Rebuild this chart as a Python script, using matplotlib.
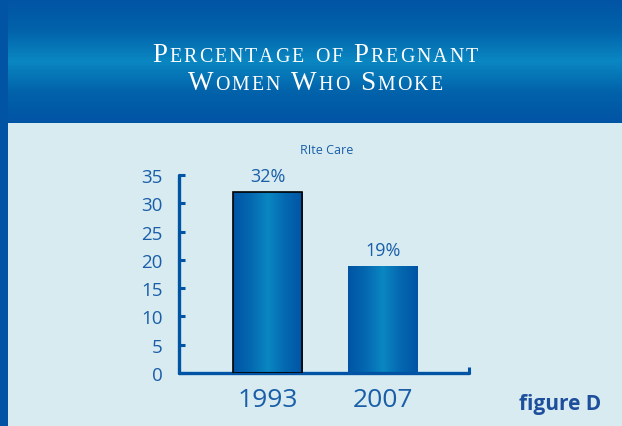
import numpy as np
import matplotlib
matplotlib.use("Agg")
import matplotlib.pyplot as plt
from matplotlib.colors import LinearSegmentedColormap

# data
years = ["1993", "2007"]
values = [32, 19]
value_labels = ["32%", "19%"]
yticks = [0, 5, 10, 15, 20, 25, 30, 35]
title_lines = [["Percentage", "of", "Pregnant"], ["Women", "Who", "Smoke"]]

dark = "#0154a4"
mid = "#0a87c2"
panel = "#d7ebf1"
text_blue = "#1a5ea8"

W, H = 622, 427
fig = plt.figure(figsize=(W / 100, H / 100), dpi=100)
fig.patch.set_facecolor(panel)

# header band with vertical gradient
head = fig.add_axes([0, 1 - 124 / H, 1, 124 / H])
head.axis("off")
grad_cmap = LinearSegmentedColormap.from_list("hd", [dark, "#0262aa", mid, "#0262aa", dark])
g = np.linspace(0, 1, 256).reshape(-1, 1)
head.imshow(g, aspect="auto", cmap=grad_cmap, extent=[0, 1, 0, 1])
head.set_xlim(0, 1)
head.set_ylim(0, 1)

# left edge strip
strip = fig.add_axes([0, 0, 8 / W, 1])
strip.axis("off")
strip.add_patch(plt.Rectangle((0, 0), 1, 1, color=dark))

# title in small caps, letter by letter with some tracking
r = fig.canvas.get_renderer()
def small_caps(y_px, words, big=19.5, small=14.3, track=2.0, space=9):
    chars = []
    for w in words:
        for k, c in enumerate(w):
            sz = big if (k == 0 and c.isupper()) else small
            chars.append((c.upper(), sz))
        chars.append((None, 0))
    chars = chars[:-1]
    placed = []
    cur = 0
    for c, sz in chars:
        if c is None:
            cur += space
            continue
        t = fig.text(0, 1 - y_px / H, c, fontsize=sz, family="Liberation Serif",
                     color="white", va="baseline", ha="left")
        bb = t.get_window_extent(renderer=r)
        placed.append((t, cur))
        cur += bb.width + track
    cur -= track
    start = W / 2 + 4 - cur / 2
    for t, off in placed:
        t.set_x((start + off) / W)

small_caps(62, title_lines[0])
small_caps(90, title_lines[1])

# chart
ax = fig.add_axes([179 / W, 1 - 374 / H, 290 / W, 198 / H])
ax.set_facecolor("none")
x = np.arange(len(years))
bars = ax.bar(x, values, width=0.6, color="none")
bar_cmap = LinearSegmentedColormap.from_list("bar", [dark, "#0468b0", mid, "#0468b0", dark])
hg = np.linspace(0, 1, 256).reshape(1, -1)
for i, b in enumerate(bars):
    bx, by = b.get_x(), b.get_y()
    bw, bh = b.get_width(), b.get_height()
    im = ax.imshow(hg, aspect="auto", cmap=bar_cmap,
                   extent=[bx, bx + bw, by, by + bh], zorder=2)
    im.set_clip_path(b)
    if i == 0:
        b.set_edgecolor("black")
        b.set_linewidth(1.2)
        b.set_zorder(3)
    ax.text(bx + bw / 2, by + bh + 1.2, value_labels[i], ha="center", va="bottom",
            fontsize=13, color=text_blue, family="Open Sans")

ax.set_xlim(-0.77, 1.75)
ax.set_ylim(0, 35)
ax.set_yticks(yticks)
ax.set_yticklabels([str(v) for v in yticks], fontsize=13.5, color=text_blue, family="Open Sans")
ax.set_xticks(x)
ax.set_xticklabels(years, fontsize=19, color=text_blue, family="Open Sans")
ax.tick_params(axis="x", length=0, pad=10)
ax.tick_params(axis="y", direction="in", length=4, width=2.2, color=dark, pad=12)
ax.set_xticks([1.75], minor=True)
ax.tick_params(axis="x", which="minor", direction="in", length=4, width=2.2, color=dark)
for s in ["top", "right"]:
    ax.spines[s].set_visible(False)
for s in ["left", "bottom"]:
    ax.spines[s].set_color(dark)
    ax.spines[s].set_linewidth(2.4)
    ax.spines[s].set_capstyle("round")

fig.text(327 / W, 1 - 151 / H, "RIte Care", ha="center", va="center",
         fontsize=9, color=text_blue, family="Open Sans")
fig.text(560 / W, 1 - 405 / H, "figure D", ha="center", va="center",
         fontsize=15, color="#1e4f9c", family="Open Sans", weight="bold")

fig.savefig("out.png", dpi=100, facecolor=fig.get_facecolor())
